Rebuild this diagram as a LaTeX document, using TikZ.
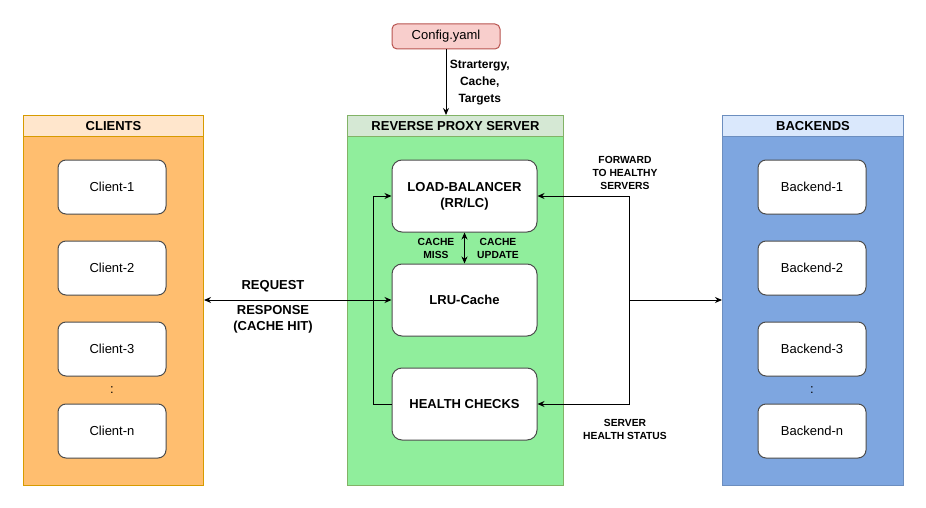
\documentclass[tikz,border=0pt]{standalone}
\usepackage{fontspec}
\setmainfont{Liberation Sans}
\usetikzlibrary{arrows.meta}
\definecolor{cliHead}{HTML}{FFE6CC}
\definecolor{cliBody}{HTML}{FFBE6F}
\definecolor{cliLine}{HTML}{D79B00}
\definecolor{pxHead}{HTML}{D5E8D4}
\definecolor{pxBody}{HTML}{90EE9C}
\definecolor{pxLine}{HTML}{82B366}
\definecolor{beHead}{HTML}{DAE8FC}
\definecolor{beBody}{HTML}{7EA6E0}
\definecolor{beLine}{HTML}{6C8EBF}
\definecolor{cfgFill}{HTML}{F8CECC}
\definecolor{cfgLine}{HTML}{B85450}

\begin{document}
\begin{tikzpicture}[x=1pt,y=-1pt,line width=1pt,
    >={Stealth[length=7pt,width=6pt]},
    head/.style={draw,anchor=north west,minimum height=21pt,inner sep=0pt,
        font=\fontsize{13}{15}\selectfont\bfseries},
    body/.style={draw,anchor=north west,minimum height=349pt,inner sep=0pt},
    unit/.style={draw=black!70,fill=white,rounded corners=8pt,minimum width=108pt,
        minimum height=54pt,font=\fontsize{13}{15}\selectfont},
    part/.style={draw=black!70,fill=white,rounded corners=10pt,minimum width=145pt,
        minimum height=72pt,align=center,font=\fontsize{13}{16}\selectfont\bfseries},
    note/.style={align=center,font=\fontsize{10.3}{13}\selectfont\bfseries}]
\useasboundingbox (0,0) rectangle (926,508);

% containers
\node [body,fill=cliBody,draw=cliLine,minimum width=180pt] (clients) at (23,136) {};
\node [head,fill=cliHead,draw=cliLine,minimum width=180pt] (clihead) at (23,115) {CLIENTS};
\node [body,fill=pxBody,draw=pxLine,minimum width=216pt] (proxy) at (347,136) {};
\node [head,fill=pxHead,draw=pxLine,minimum width=216pt] (pxhead) at (347,115) {REVERSE PROXY SERVER};
\node [body,fill=beBody,draw=beLine,minimum width=181pt] (backends) at (722,136) {};
\node [head,fill=beHead,draw=beLine,minimum width=181pt] (behead) at (722,115) {BACKENDS};

% clients and backends
\path
    (112,187) node [unit] (cli1) {Client-1}
    +(0,81) node [unit] (cli2) {Client-2}
    +(0,162) node [unit] (cli3) {Client-3}
    +(0,203) node [font=\fontsize{13}{15}\selectfont] (clidots) {:}
    +(0,244) node [unit] (clin) {Client-n};
\path
    (812,187) node [unit] (be1) {Backend-1}
    +(0,81) node [unit] (be2) {Backend-2}
    +(0,162) node [unit] (be3) {Backend-3}
    +(0,203) node [font=\fontsize{13}{15}\selectfont] (bedots) {:}
    +(0,244) node [unit] (ben) {Backend-n};

% proxy parts
\path
    (464.5,196) node [part] (lb) {LOAD-BALANCER\\(RR/LC)}
    +(0,104) node [part] (cache) {LRU-Cache}
    +(0,208) node [part] (health) {HEALTH CHECKS};

% config
\node [draw=cfgLine,fill=cfgFill,rounded corners=5pt,minimum width=108pt,minimum height=25pt,
    font=\fontsize{13}{15}\selectfont] (config) at (446,36.5) {Config.yaml};
\draw [->] (config.south) -- (config.south |- pxhead.north)
    node [midway,right,align=center,font=\fontsize{12}{17}\selectfont\bfseries] (cfgnote)
    {Strartergy,\\Cache,\\Targets};

% request / response
\draw [<->] (cache.west -| clients.east) -- (cache.west);
\node [note,font=\fontsize{13}{15}\selectfont\bfseries] (reqnote) at (273,286) {REQUEST};
\node [note,font=\fontsize{13}{16}\selectfont\bfseries] (resnote) at (273,319.5) {RESPONSE\\(CACHE HIT)};

% cache miss / update
\draw [<->] (lb.south) -- (cache.north);
\node [note] (missnote) at (436,248) {CACHE\\MISS};
\node [note] (updnote) at (498,248) {CACHE\\UPDATE};

% health feedback
\draw [->] (health.west) -- ++(-18,0) |- (lb.west);

% backends link
\coordinate (fwd) at (629,300);
\draw [->] (fwd) |- (lb.east);
\draw [->] (fwd) |- (health.east);
\draw [->] (fwd) -- (fwd -| backends.west);
\node [note] (fwdnote) at (625,173) {FORWARD\\TO HEALTHY\\SERVERS};
\node [note] (hsnote) at (625,429.5) {SERVER\\HEALTH STATUS};
\end{tikzpicture}
\end{document}
